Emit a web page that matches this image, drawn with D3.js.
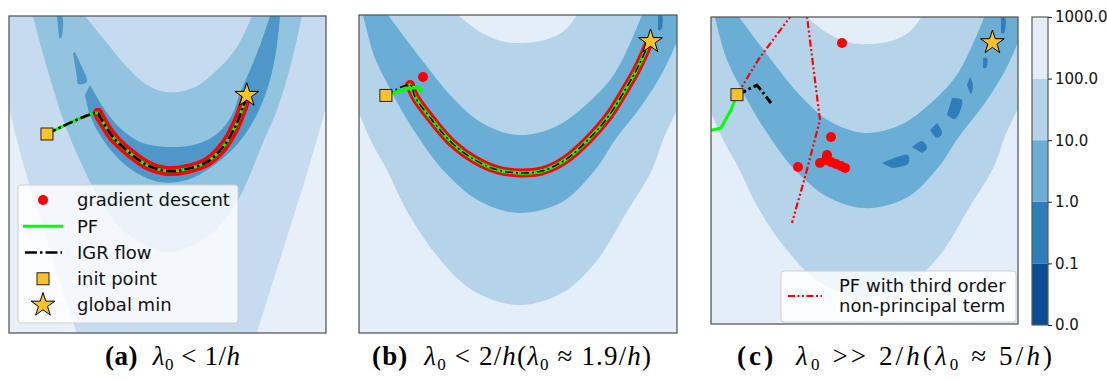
<!DOCTYPE html>
<html>
<head>
<meta charset="utf-8">
<script src="https://cdn.jsdelivr.net/npm/d3@7"></script>
<style>
  body { margin: 0; background: #fff; }
  text { font-family: "DejaVu Sans", sans-serif; }
  text.caption { font-family: "Liberation Serif", serif; }
</style>
</head>
<body>
<svg></svg>
<script>
// ---- colours (contour bands, low -> high) ----
var bandColors = ["#084d93", "#2e7ebc", "#6aaed6", "#b5d4e9", "#e3eef8"];
var aColors = ["#e7f0f9", "#c6dbef", "#93c4df", "#4d98c9"];
var cbarLabels = ["0.0", "0.1", "1.0", "10.0", "100.0", "1000.0"];

// ---- panel (a): contour boundaries, x,y in [-2,2] ----
var aLightLeft = [[-2, 0.839], [-1.798, 0.057], [-1.483, -0.953], [-1.142, -2]];
var aLightRight = [[1.129, -2], [1.457, -0.953], [1.773, 0.057], [2, 0.839]];
var aMidOuter = [[-1.697, 2], [-1.584, 1.571], [-1.457, 1.129], [-1.293, 0.625], [-1.079, 0.120], [-0.852, -0.322],
  [-0.536, -0.725], [-0.006, -0.978], [0.536, -0.763], [0.852, -0.385], [1.041, -0.006], [1.192, 0.372],
  [1.382, 0.814], [1.571, 1.445], [1.697, 2]];
var aMidInner = [[-1.041, 2], [-0.763, 1.659], [-0.511, 1.356], [-0.259, 1.129], [-0.006, 1.041], [0.322, 1.091],
  [0.625, 1.319], [0.877, 1.609], [1.066, 2]];
var aDarkUpper = [[-0.978, 1.129], [-0.789, 0.814], [-0.599, 0.587], [-0.347, 0.410], [-0.006, 0.347], [0.372, 0.385],
  [0.637, 0.524], [0.814, 0.751], [0.915, 1.028], [1.041, 1.319], [1.192, 1.697], [1.293, 2]];
var aDarkLower = [[1.420, 2], [1.382, 1.634], [1.293, 1.192], [1.167, 0.839], [1.016, 0.562], [0.814, 0.309],
  [0.536, 0.082], [0.246, -0.069], [-0.095, -0.095], [-0.410, 0.032], [-0.662, 0.246], [-0.852, 0.498],
  [-0.978, 0.751], [-1.041, 1.003]];
var aPatches = [
  [[-1.394, 2], [-1.331, 2], [-1.344, 1.722], [-1.369, 1.722]],
  [[-1.192, 1.533], [-1.142, 1.230], [-1.129, 1.142], [-1.016, 1.167], [-1.104, 1.407], [-1.167, 1.546]]
];

// ---- panels (b),(c): same landscape, x,y in [-1.2,1.2] ----
var bcInner100 = [[-0.453, 1.2], [-0.272, 1.064], [-0.098, 0.996], [0.030, 0.989], [0.204, 1.011], [0.355, 1.087], [0.445, 1.2]];
var bcOuter100 = [[-1.2, 0.460], [-1.102, 0.234], [-0.989, 0.030], [-0.830, -0.294], [-0.604, -0.626], [-0.347, -0.875],
  [0.0, -0.989], [0.332, -0.898], [0.581, -0.672], [0.830, -0.272], [1.011, 0.030], [1.094, 0.257], [1.2, 0.483]];
var bcInner10 = [[-0.981, 1.2], [-0.725, 0.860], [-0.498, 0.581], [-0.272, 0.385], [0.0, 0.294], [0.279, 0.355],
  [0.528, 0.536], [0.732, 0.762], [0.936, 1.2]];
var bcOuter10 = [[-1.17, 1.2], [-1.079, 0.874], [-0.981, 0.672], [-0.906, 0.53], [-0.830, 0.399], [-0.649, 0.131],
  [-0.551, 0.013], [-0.302, -0.199], [0.0, -0.294], [0.332, -0.211], [0.581, 0.030], [0.732, 0.257], [0.936, 0.52],
  [1.109, 0.80], [1.2, 1.0]];
var bPatches = [[[1.057, 1.2], [1.087, 1.2], [1.079, 1.087], [1.057, 1.087]]];
var cPatches = [
  [[1.067, 1.2], [1.098, 1.2], [1.091, 1.075], [1.067, 1.075]],
  [[0.927, 0.879], [0.958, 0.879], [0.950, 0.801], [0.927, 0.801]],
  [[0.825, 0.731], [0.848, 0.668], [0.833, 0.598], [0.801, 0.668]],
  [[0.684, 0.567], [0.762, 0.551], [0.708, 0.403], [0.645, 0.434]],
  [[0.567, 0.371], [0.606, 0.293], [0.567, 0.254], [0.512, 0.317]],
  [[0.371, 0.184], [0.450, 0.231], [0.489, 0.176], [0.450, 0.137]],
  [[0.137, 0.059], [0.340, 0.121], [0.340, 0.051], [0.215, 0.020]]
];

// ---- trajectories ----
var globalMin = [1, 1];
var aInit = [-1.521, 0.511];
var aPath = [[-0.877, 0.776], [-0.852, 0.726], [-0.688, 0.473], [-0.473, 0.271], [-0.259, 0.120], [-0.006, 0.045],
  [0.246, 0.069], [0.498, 0.158], [0.700, 0.347], [0.852, 0.599], [0.953, 0.852], [1.0, 0.985]];

var bcInit = [-0.997, 0.593];
var bPath = [[-0.815, 0.672], [-0.777, 0.581], [-0.649, 0.408], [-0.498, 0.234], [-0.325, 0.106], [-0.151, 0.030],
  [0.015, 0.008], [0.181, 0.023], [0.355, 0.106], [0.528, 0.257], [0.679, 0.430], [0.808, 0.634], [0.906, 0.808],
  [0.981, 0.974]];
var bStray = [[-0.717, 0.732]];
var bPFStart = [[-0.997, 0.593], [-0.853, 0.641], [-0.755, 0.656], [-0.725, 0.626]];

var cGD = [[-0.176, 0.997], [-0.262, 0.262], [-0.520, 0.027], [-0.348, 0.059], [-0.293, 0.121], [-0.301, 0.082],
  [-0.262, 0.066], [-0.223, 0.051], [-0.184, 0.035], [-0.152, 0.020]];
var cPF = [[-0.997, 0.590], [-1.044, 0.473], [-1.122, 0.332], [-1.26, 0.30]];
var cIGR = [[-0.997, 0.590], [-0.840, 0.668], [-0.731, 0.528]];
var cPF3 = [[-0.997, 0.590], [-0.832, 0.864], [-0.582, 1.2], [-0.52, 1.3], [-0.449, 1.2], [-0.348, 0.395],
  [-0.465, -0.051], [-0.567, -0.410]];

var legendA = ["gradient descent", "PF", "IGR flow", "init point", "global min"];
var legendC = ["PF with third order", "non-principal term"];
var captions = [
  {x: 105, w: 135, parts: [["(a)", "b"], ["  ", ""], ["λ", "i"], ["0", "s"], [" < 1/", ""], ["h", "i"]]},
  {x: 372, w: 279, parts: [["(b)", "b"], ["  ", ""], ["λ", "i"], ["0", "s"], [" < 2/", ""], ["h", "i"], ["(", ""],
    ["λ", "i"], ["0", "s"], [" ≈ 1.9/", ""], ["h", "i"], [")", ""]]},
  {x: 737, w: 315, parts: [["(c)", "b"], ["  ", ""], ["λ", "i"], ["0", "s"], [" >> 2/", ""], ["h", "i"], ["(", ""],
    ["λ", "i"], ["0", "s"], [" ≈ 5/", ""], ["h", "i"], [")", ""]]}
];

// ---- drawing ----
var svg = d3.select("svg").attr("width", 1107).attr("height", 381);
var gold = "#fdc22a", lime = "#00ff00";

function lineGen(x, y, curve) {
  return d3.line().x(function(d) { return x(d[0]); }).y(function(d) { return y(d[1]); }).curve(curve || d3.curveLinear);
}
// build a closed region from smooth boundary pieces joined with straight edges
function shape(parts, x, y) {
  var s = "";
  parts.forEach(function(p, i) {
    var seg = p.length > 2 ? lineGen(x, y, d3.curveCatmullRom)(p)
      : p.map(function(d, j) { return (j ? "L" : "M") + x(d[0]) + "," + y(d[1]); }).join("");
    s += i ? "L" + seg.slice(1) : seg;
  });
  return s + "Z";
}

function makePanel(id, x0, x1, y0, y1, lim) {
  var x = d3.scaleLinear().domain([-lim, lim]).range([x0, x1]);
  var y = d3.scaleLinear().domain([-lim, lim]).range([y1, y0]);
  svg.append("clipPath").attr("id", "clip-" + id).append("rect")
    .attr("x", x0).attr("y", y0).attr("width", x1 - x0).attr("height", y1 - y0);
  var g = svg.append("g").attr("clip-path", "url(#clip-" + id + ")");
  return {x: x, y: y, g: g, box: [x0, x1, y0, y1]};
}
function frame(p) {
  svg.append("rect").attr("x", p.box[0]).attr("y", p.box[2])
    .attr("width", p.box[1] - p.box[0]).attr("height", p.box[3] - p.box[2])
    .attr("fill", "none").attr("stroke", "#5a5a5a").attr("stroke-width", 1.3);
}
function star(g, p, pt) {
  g.append("path").attr("d", d3.symbol(d3.symbolStar, 175)())
    .attr("transform", "translate(" + p.x(pt[0]) + "," + p.y(pt[1]) + ")")
    .attr("fill", gold).attr("stroke", "#000").attr("stroke-width", 1);
}
function square(g, p, pt) {
  g.append("rect").attr("x", p.x(pt[0]) - 6).attr("y", p.y(pt[1]) - 6).attr("width", 12).attr("height", 12)
    .attr("fill", gold).attr("stroke", "#222").attr("stroke-width", 1);
}
function trail(g, p, pts, color, width, dash, curve) {
  g.append("path").attr("d", lineGen(p.x, p.y, curve)(pts))
    .attr("fill", "none").attr("stroke", color).attr("stroke-width", width)
    .attr("stroke-dasharray", dash || null).attr("stroke-linecap", dash ? "butt" : "round")
    .attr("stroke-linejoin", "round");
}
function dots(g, p, pts, r) {
  g.selectAll(null).data(pts).enter().append("circle")
    .attr("cx", function(d) { return p.x(d[0]); }).attr("cy", function(d) { return p.y(d[1]); })
    .attr("r", r).attr("fill", "red");
}

// panel (a)
var pa = makePanel("a", 9, 326, 16, 333, 2);
pa.g.append("rect").attr("x", 9).attr("y", 16).attr("width", 317).attr("height", 317).attr("fill", aColors[0]);
pa.g.append("path").attr("fill", aColors[1])
  .attr("d", shape([[[-2, 2]], aLightLeft, aLightRight, [[2, 2]]], pa.x, pa.y));
pa.g.append("path").attr("fill", aColors[2])
  .attr("d", shape([aMidOuter, aMidInner.slice().reverse()], pa.x, pa.y));
pa.g.append("path").attr("fill", aColors[3])
  .attr("d", shape([aDarkUpper, aDarkLower], pa.x, pa.y));
aPatches.forEach(function(pt) { pa.g.append("path").attr("fill", aColors[3]).attr("d", shape([pt], pa.x, pa.y)); });

trail(pa.g, pa, aPath, "red", 10, null, d3.curveCatmullRom);
dots(pa.g, pa, aPath, 5);
trail(pa.g, pa, [aInit].concat(aPath), lime, 3, null, d3.curveCatmullRom);
trail(pa.g, pa, [aInit].concat(aPath), "#000", 2.6, "10,3,2.5,3", d3.curveCatmullRom);
square(pa.g, pa, aInit);
star(pa.g, pa, globalMin);

// panels (b) and (c) share the landscape
function landscape(p, patches) {
  p.g.append("rect").attr("x", p.box[0]).attr("y", p.box[2])
    .attr("width", p.box[1] - p.box[0]).attr("height", p.box[3] - p.box[2]).attr("fill", bandColors[4]);
  p.g.append("path").attr("fill", bandColors[3])
    .attr("d", shape([[[-1.2, 1.2]], bcInner100, [[1.2, 1.2]], bcOuter100.slice().reverse()], p.x, p.y));
  p.g.append("path").attr("fill", bandColors[2])
    .attr("d", shape([bcOuter10.slice(0, 1), bcInner10, [[1.2, 1.2]], bcOuter10.slice().reverse()], p.x, p.y));
  patches.forEach(function(pt) { p.g.append("path").attr("fill", bandColors[1]).attr("d", shape([pt], p.x, p.y)); });
}

var pb = makePanel("b", 359, 677, 15, 333, 1.2);
landscape(pb, bPatches);
trail(pb.g, pb, bPath, "red", 9, null, d3.curveCatmullRom);
dots(pb.g, pb, bPath.slice(0, 1), 5);
dots(pb.g, pb, bStray, 5);
trail(pb.g, pb, bPFStart, lime, 3.5, null);
trail(pb.g, pb, bPath, lime, 3.5, null, d3.curveCatmullRom);
trail(pb.g, pb, [bcInit].concat(bPath), "#000", 1.6, "8,3,2,3", d3.curveCatmullRom);
square(pb.g, pb, bcInit);
star(pb.g, pb, globalMin);

var pc = makePanel("c", 711, 1018, 17, 324, 1.2);
landscape(pc, cPatches);
dots(pc.g, pc, cGD, 5);
trail(pc.g, pc, cPF, lime, 3, null);
trail(pc.g, pc, cIGR, "#000", 3, "10,3,2.5,3");
trail(pc.g, pc, cPF3, "red", 2.2, "7,2.5,2,2.5,2,2.5");
square(pc.g, pc, bcInit);
star(pc.g, pc, globalMin);

// legend (a)
var la = svg.append("g");
la.append("rect").attr("x", 18).attr("y", 185).attr("width", 220).attr("height", 138).attr("rx", 3)
  .attr("fill", "#fff").attr("fill-opacity", 0.8).attr("stroke", "#d0d0d0");
var rowsA = d3.scaleLinear().domain([0, 4]).range([200, 305]);
legendA.forEach(function(t, i) {
  la.append("text").attr("x", 77).attr("y", rowsA(i)).attr("dy", "0.36em").attr("font-size", 18).attr("fill", "#111").text(t);
});
la.append("circle").attr("cx", 43).attr("cy", rowsA(0)).attr("r", 5).attr("fill", "red");
la.append("line").attr("x1", 23).attr("x2", 63).attr("y1", rowsA(1)).attr("y2", rowsA(1)).attr("stroke", lime).attr("stroke-width", 3);
la.append("line").attr("x1", 25).attr("x2", 62).attr("y1", rowsA(2)).attr("y2", rowsA(2))
  .attr("stroke", "#000").attr("stroke-width", 2.6).attr("stroke-dasharray", "12,3,2.5,3");
la.append("rect").attr("x", 37).attr("y", rowsA(3) - 6).attr("width", 12).attr("height", 12)
  .attr("fill", gold).attr("stroke", "#222");
la.append("path").attr("d", d3.symbol(d3.symbolStar, 175)()).attr("transform", "translate(43," + rowsA(4) + ")")
  .attr("fill", gold).attr("stroke", "#000");

// legend (c)
var lc = svg.append("g");
lc.append("rect").attr("x", 781).attr("y", 271).attr("width", 235).attr("height", 51).attr("rx", 3)
  .attr("fill", "#fff").attr("fill-opacity", 0.8).attr("stroke", "#d0d0d0");
lc.append("line").attr("x1", 788).attr("x2", 822).attr("y1", 296).attr("y2", 296)
  .attr("stroke", "red").attr("stroke-width", 2.2).attr("stroke-dasharray", "7,2.5,2,2.5,2,2.5");
legendC.forEach(function(t, i) {
  lc.append("text").attr("x", 839).attr("y", 286 + i * 20).attr("dy", "0.36em").attr("font-size", 18).attr("fill", "#111").text(t);
});

[pa, pb, pc].forEach(frame);

// colorbar
var cbY = d3.scaleLinear().domain([0, 5]).range([325, 17]);
var cb = svg.append("g");
bandColors.forEach(function(c, i) {
  cb.append("rect").attr("x", 1032).attr("y", cbY(i + 1)).attr("width", 16).attr("height", cbY(i) - cbY(i + 1)).attr("fill", c);
});
cb.append("rect").attr("x", 1032).attr("y", 17).attr("width", 16).attr("height", 308)
  .attr("fill", "none").attr("stroke", "#5a5a5a").attr("stroke-width", 1.2);
var cbAxis = cb.append("g").attr("transform", "translate(1048,0)")
  .call(d3.axisRight(cbY).tickValues(d3.range(6)).tickSize(4).tickPadding(3)
    .tickFormat(function(i) { return cbarLabels[i]; }));
cbAxis.select(".domain").remove();
cbAxis.selectAll("text").attr("font-size", 15).attr("fill", "#111");
cbAxis.selectAll("line").attr("stroke", "#222");

// captions
captions.forEach(function(c) {
  var t = svg.append("text").attr("class", "caption").attr("x", c.x).attr("y", 365)
    .attr("font-size", 27).attr("fill", "#000").attr("xml:space", "preserve")
    .attr("textLength", c.w).attr("lengthAdjust", "spacing");
  var shift = 0;
  c.parts.forEach(function(p) {
    var dy = (p[1] === "s" ? 5 : 0) - shift;
    shift += dy;
    t.append("tspan").attr("dy", dy)
      .attr("font-weight", p[1] === "b" ? "bold" : null)
      .attr("font-style", p[1] === "i" ? "italic" : null)
      .attr("font-size", p[1] === "s" ? 17 : null)
      .text(p[0]);
  });
});
</script>
</body>
</html>
